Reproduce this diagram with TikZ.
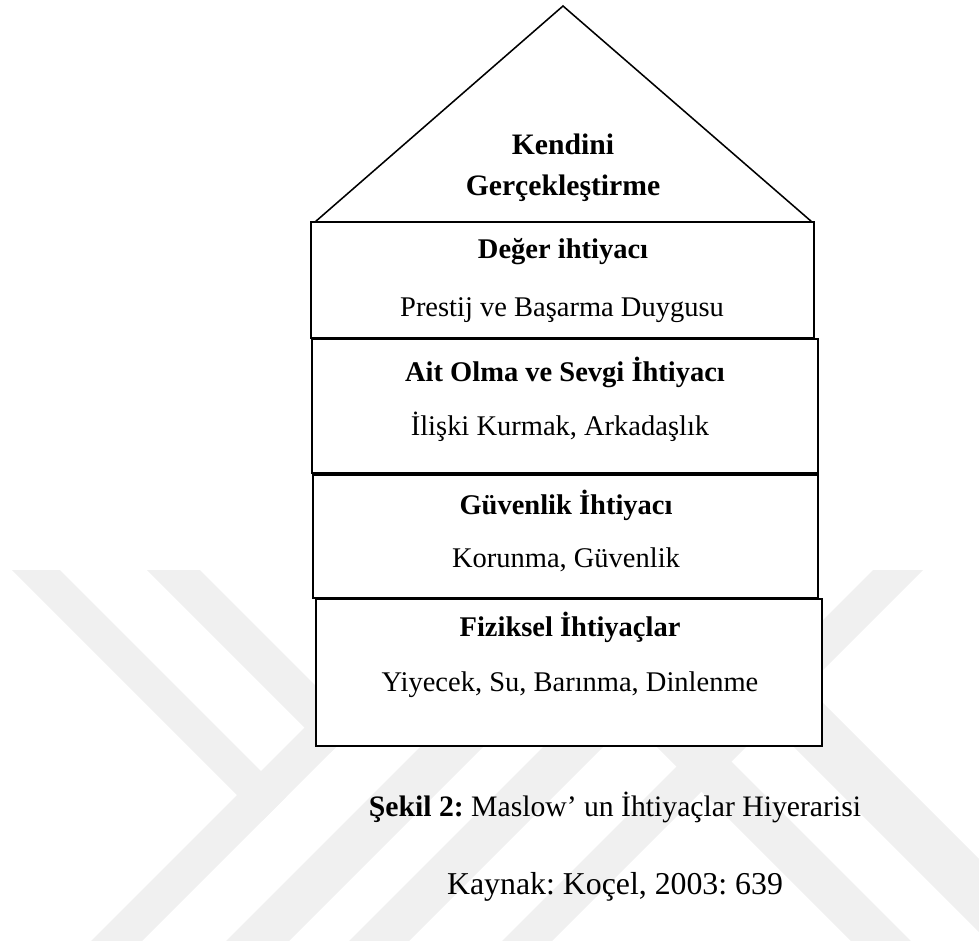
\documentclass[tikz,border=0pt]{standalone}
\usepackage{fontspec}
\setmainfont{Liberation Serif}
\frenchspacing

\tikzset{
	katman/.style={draw=black, fill=white, line width=0.6pt},
	baslik/.style={font=\fontsize{12}{14}\selectfont\bfseries},
	aciklama/.style={font=\fontsize{12}{14}\selectfont},
	filigran/.style={fill=black!6, draw=none}
}

\begin{document}
\begin{tikzpicture}[x=0.0148cm, y=-0.0148cm]

	\useasboundingbox (0,0) rectangle (979,945);

	% watermark stripes
	\begin{scope}
		\clip (0,570) rectangle (979,940);
		\fill[filigran] (-58,500) -- (-10,500) -- (286.5,796.5) -- (262.5,820.5) -- cycle;
		\fill[filigran] (77,500) -- (130,500) -- (356.5,726.5) -- (330,753) -- cycle;
		\foreach \p/\q in {1032/1083, 1167/1230, 1290/1350, 1443/1493}
			\fill[filigran] (\p-500,500) -- (\q-500,500) -- (\q-1000,1000) -- (\p-1000,1000) -- cycle;
		\foreach \a/\b in {-90/-30, 47/120}
			\fill[filigran] (\a+500,500) -- (\b+500,500) -- (\b+1000,1000) -- (\a+1000,1000) -- cycle;
	\end{scope}

	\draw[line width=0.65pt] (315,222) -- (563,6) -- (812,222);

	\filldraw[katman] (311,222) rectangle (814,338);
	\filldraw[katman] (312,339) rectangle (818,473);
	\filldraw[katman] (313,475) rectangle (818,598);
	\filldraw[katman, line width=0.9pt] (316,599) rectangle (822,746);

	\node[font=\fontsize{12.5}{17.3}\selectfont\bfseries, align=center] (kendini) at (563,168) {Kendini\\Gerçekleştirme};

	\node[baslik] (deger) at (563,252) {Değer ihtiyacı};
	\node[aciklama] (prestij) at (562,310) {Prestij ve Başarma Duygusu};

	\node[baslik] (ait) at (565,372) {Ait Olma ve Sevgi İhtiyacı};
	\node[aciklama] (iliski) at (560,427) {İlişki Kurmak, Arkadaşlık};

	\node[baslik] (guvenlik) at (566,505) {Güvenlik İhtiyacı};
	\node[aciklama] (korunma) at (566,560) {Korunma, Güvenlik};

	\node[baslik] (fiziksel) at (570,627) {Fiziksel İhtiyaçlar};
	\node[aciklama] (yiyecek) at (570,685) {Yiyecek, Su, Barınma, Dinlenme};

	\node[font=\fontsize{12.5}{15}\selectfont] (sekil) at (615,807) {\textbf{Şekil 2:} Maslow’ un İhtiyaçlar Hiyerarisi};
	\node[font=\fontsize{13.4}{16}\selectfont] (kaynak) at (615,887) {Kaynak: Koçel, 2003: 639};

\end{tikzpicture}
\end{document}
